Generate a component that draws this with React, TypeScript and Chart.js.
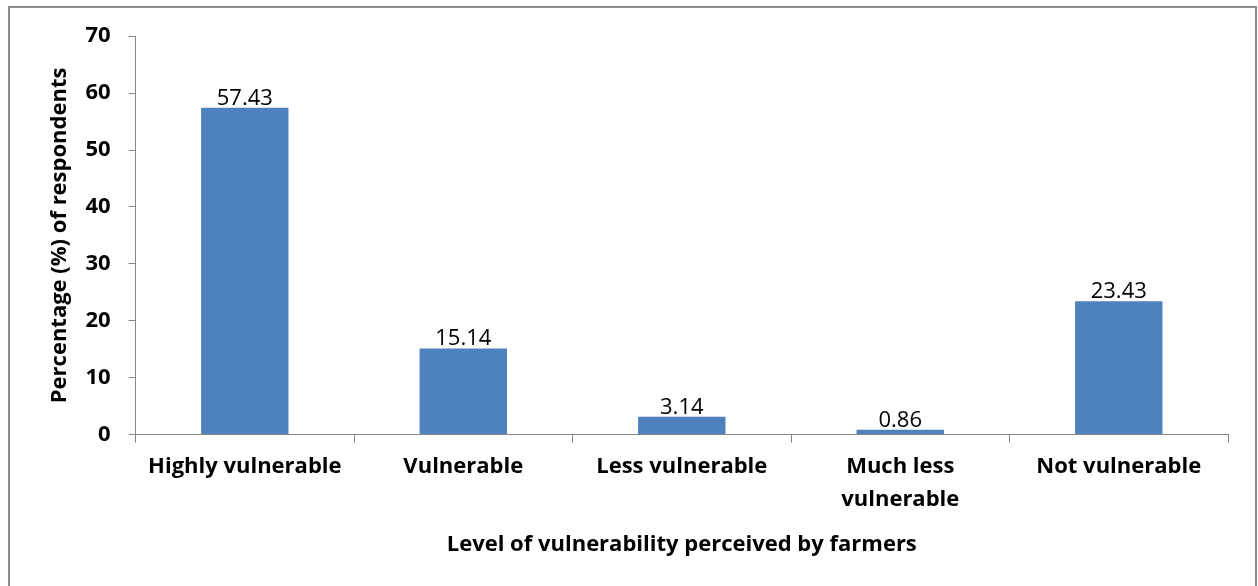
import React, { useEffect, useRef } from "react";
import { Chart, registerables } from "chart.js";

Chart.register(...registerables);

const categories: (string | string[])[] = [
  "Highly vulnerable",
  "Vulnerable",
  "Less vulnerable",
  ["Much less", "vulnerable"],
  "Not vulnerable",
];
const percentages = [57.43, 15.14, 3.14, 0.86, 23.43];
const valueLabels = ["57.43", "15.14", "3.14", "0.86", "23.43"];
const yTitle = "Percentage (%) of respondents";
const xTitle = "Level of vulnerability perceived by farmers";

const FONT = "'Open Sans', Lato, sans-serif";

const labelPlugin = {
  id: "valueLabels",
  afterDatasetsDraw(chart: any) {
    const { ctx } = chart;
    const meta = chart.getDatasetMeta(0);
    ctx.save();
    ctx.font = `400 22px ${FONT}`;
    ctx.fillStyle = "#000";
    ctx.textAlign = "center";
    ctx.textBaseline = "alphabetic";
    meta.data.forEach((bar: any, i: number) => {
      ctx.fillText(valueLabels[i], bar.x, bar.y - 3);
    });
    ctx.restore();
  },
};

const borderPlugin = {
  id: "outerBorder",
  afterDraw(chart: any) {
    const { ctx, width, height } = chart;
    ctx.save();
    ctx.fillStyle = "#8c8c8c";
    ctx.fillRect(1, 1, width - 2, 2);
    ctx.fillRect(1, 1, 2, height);
    ctx.fillRect(width - 3, 1, 2, height);
    ctx.restore();
  },
};

export default function App() {
  const ref = useRef<HTMLCanvasElement>(null);
  useEffect(() => {
    document.documentElement.style.overflow = "hidden";
    document.body.style.overflow = "hidden";
    document.body.style.margin = "0";
    const chart = new Chart(ref.current!, {
      type: "bar",
      data: {
        labels: categories,
        datasets: [
          {
            data: percentages,
            backgroundColor: "#4F81BD",
            barPercentage: 0.4,
            categoryPercentage: 1,
          },
        ],
      },
      options: {
        animation: false,
        responsive: true,
        maintainAspectRatio: false,
        layout: { padding: { top: 31, right: 30, left: 40, bottom: 47 } },
        plugins: { legend: { display: false }, tooltip: { enabled: false } },
        scales: {
          x: {
            grid: {
              offset: true,
              drawOnChartArea: false,
              drawTicks: true,
              tickLength: 8,
              color: "#868686",
            },
            border: { color: "#868686", width: 1 },
            ticks: {
              color: "#000",
              font: { family: FONT, size: 22, weight: "bold", lineHeight: 1.5 },
              padding: 8,
              maxRotation: 0,
              autoSkip: false,
            },
            title: {
              display: true,
              text: xTitle,
              color: "#000",
              font: { family: FONT, size: 22, weight: "bold" },
              padding: { top: 7, bottom: 0 },
            },
          },
          y: {
            min: 0,
            max: 70,
            ticks: {
              stepSize: 10,
              color: "#000",
              font: { family: FONT, size: 22, weight: "bold" },
              padding: 18,
            },
            grid: {
              drawOnChartArea: false,
              drawTicks: true,
              tickLength: 7,
              color: "#868686",
            },
            border: { color: "#868686", width: 1 },
            title: {
              display: true,
              text: yTitle,
              color: "#000",
              font: { family: FONT, size: 22, weight: "bold" },
              padding: { top: 0, bottom: -6 },
            },
          },
        },
      },
      plugins: [labelPlugin, borderPlugin],
    });
    return () => chart.destroy();
  }, []);
  return (
    <div
      style={{
        position: "absolute",
        left: 7,
        top: 5,
        width: 1251,
        height: 600,
      }}
    >
      <canvas ref={ref} />
    </div>
  );
}
